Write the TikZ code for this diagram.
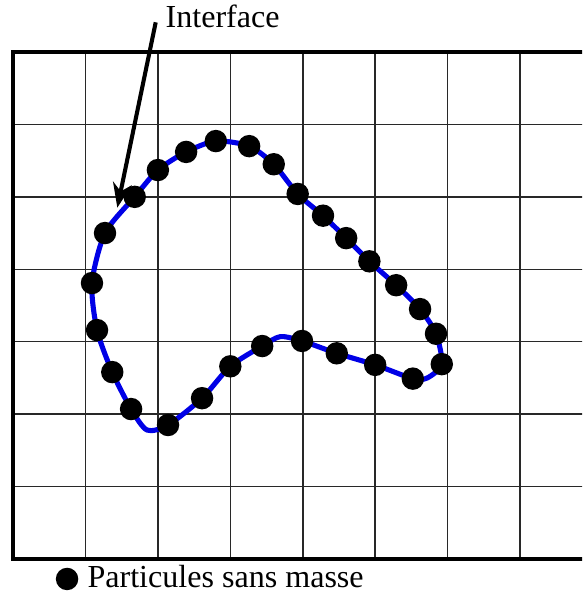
\documentclass[tikz,border=0pt]{standalone}
\usepackage{fontspec}
\setmainfont{Liberation Serif}
\usetikzlibrary{arrows.meta}

\begin{document}
\begin{tikzpicture}[x=1cm, y=1cm,
  % ---- colours ---------------------------------------------------------
  /utils/exec={%
    \definecolor{figblue}{RGB}{  0,  0,230}%
    \definecolor{figgrid}{RGB}{ 40, 40, 40}%
  },
  % ---- styles ----------------------------------------------------------
  cell/.style={draw=figgrid, line width=0.6pt},
  frame/.style={draw=black, line width=1.5pt},
  iface/.style={draw=figblue, line width=2pt, line join=round},
  dot/.style={circle, fill=black, inner sep=0pt, minimum size=3.1mm},
  lbl/.style={font=\fontsize{12.6}{15}\selectfont, inner sep=0pt},
  pointer/.style={draw=black, line width=1.6pt, -{Stealth[length=3.4mm,width=2.6mm]}},
]

\useasboundingbox (-0.18,-0.525) rectangle (7.856,7.718);
\clip (-0.18,-0.525) rectangle (7.856,7.718);

% =====================================================================
%  MESH
% =====================================================================
\foreach \i in {1,...,7} \draw[cell] (\i,0) -- (\i,7);
\foreach \j in {1,...,6} \draw[cell] (0,\j) -- (8.2,\j);
\draw[frame] (8.2,7) -- (0,7) -- (0,0) -- (8.2,0);

% =====================================================================
%  INTERFACE : massless particles on a closed curve
% =====================================================================
\foreach \x/\y [count=\i] in {1.68/5.00, 2.00/5.37, 2.39/5.62, 2.80/5.77,
    3.26/5.70, 3.60/5.45, 3.93/5.04, 4.28/4.74, 4.60/4.43, 4.92/4.11,
    5.29/3.78, 5.62/3.45, 5.84/3.11, 5.92/2.69, 5.52/2.49, 5.00/2.68,
    4.47/2.84, 3.99/3.01, 3.44/2.94, 3.00/2.66, 2.61/2.22, 2.14/1.85,
    1.63/2.07, 1.37/2.58, 1.16/3.16, 1.09/3.81, 1.27/4.50}
  \coordinate (p\i) at (\x,\y);

\draw[iface] plot[smooth cycle, tension=0.45] coordinates
  {(p1) (p2) (p3) (p4) (p5) (p6) (p7) (p8) (p9) (p10) (p11) (p12) (p13)
   (p14) (5.72,2.50) (p15) (p16) (p17) (p18) (3.69,3.07) (p19) (p20) (p21)
   (p22) (1.85,1.78) (p23) (p24) (p25) (p26) (p27)};

\foreach \i in {1,...,27} \node[dot] (d\i) at (p\i) {};

% pointer to the curve
\node[lbl, anchor=base west] (ifl) at (2.10,7.345) {Interface};
\coordinate (tail) at (1.97,7.41);
\coordinate (tip)  at (1.44,4.85);
\draw[pointer] (tail) -- (tip);

% =====================================================================
%  KEY
% =====================================================================
\node[dot] (key) at (0.746,-0.276) {};
\node[lbl, anchor=base west] (keytxt) at (1.022,-0.40) {Particules sans masse};

\end{tikzpicture}
\end{document}
